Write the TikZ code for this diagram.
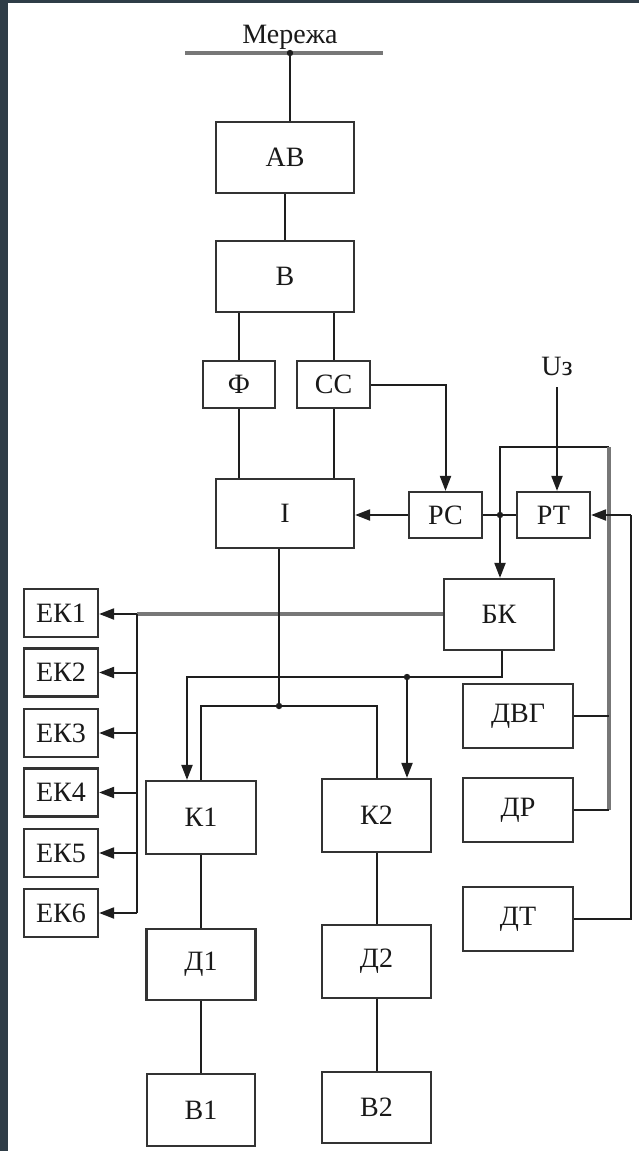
\documentclass[tikz,border=0pt]{standalone}
\usepackage{fontspec}
\setmainfont{Liberation Serif}
\usetikzlibrary{arrows.meta,calc}
\definecolor{bgdark}{HTML}{2F3D47}
\definecolor{boxc}{HTML}{333333}
\definecolor{linec}{HTML}{1E1E1E}
\definecolor{glinec}{HTML}{777777}
\begin{document}
\begin{tikzpicture}[x=1pt,y=-1pt,
  box/.style={draw=boxc,line width=2.2pt,fill=white,inner sep=0pt,
    font=\fontsize{28}{30}\selectfont,text=black!90},
  txt/.style={inner sep=0pt,font=\fontsize{28}{30}\selectfont,text=black!90},
  conn/.style={draw=linec,line width=2pt},
  gline/.style={draw=glinec,line width=3.2pt},
  arr/.style={conn,-{Triangle[length=15pt,width=11pt]}},
  dot/.style={fill=linec}]
\useasboundingbox (0,0) rectangle (639,1151);
\fill[bgdark] (0,0) rectangle (639,1151);
\fill[white] (8,3) rectangle (639,1151);

% text labels
\node[txt,anchor=base] (mer) at (290,43) {Мережа};
\node[txt] (uz) at (557,366) {Uз};

% boxes
\node[box,minimum width=138pt,minimum height=71pt] (AB) at (285,157.5) {АВ};
\node[box,minimum width=138pt,minimum height=71pt] (B) at (285,276.5) {В};
\node[box,minimum width=72pt,minimum height=47pt] (F) at (239,384.5) {Ф};
\node[box,minimum width=73pt,minimum height=47pt] (CC) at (333.5,384.5) {СС};
\node[box,minimum width=138pt,minimum height=69pt] (I) at (285,513.5) {І};
\node[box,minimum width=73pt,minimum height=46pt] (PC) at (445.5,515) {РС};
\node[box,minimum width=73pt,minimum height=46pt] (PT) at (553.5,515) {РТ};
\node[box,minimum width=110pt,minimum height=71pt] (BK) at (499,614.5) {БК};
\node[box,minimum width=110pt,minimum height=64pt] (DVG) at (518,716) {ДВГ};
\node[box,minimum width=110pt,minimum height=64pt] (DR) at (518,810) {ДР};
\node[box,minimum width=110pt,minimum height=64pt] (DT) at (518,919) {ДТ};
\node[box,minimum width=74pt,minimum height=48pt] (EK1) at (61,613) {ЕК1};
\node[box,minimum width=74pt,minimum height=48pt] (EK2) at (61,672.5) {ЕК2};
\node[box,minimum width=74pt,minimum height=48pt] (EK3) at (61,733) {ЕК3};
\node[box,minimum width=74pt,minimum height=48pt] (EK4) at (61,792.5) {ЕК4};
\node[box,minimum width=74pt,minimum height=48pt] (EK5) at (61,853) {ЕК5};
\node[box,minimum width=74pt,minimum height=48pt] (EK6) at (61,913) {ЕК6};
\node[box,minimum width=110pt,minimum height=73pt] (K1) at (201,817.5) {К1};
\node[box,minimum width=109pt,minimum height=73pt] (K2) at (376.5,815.5) {К2};
\node[box,minimum width=109pt,minimum height=71pt] (D1) at (201,964.5) {Д1};
\node[box,minimum width=109pt,minimum height=73pt] (D2) at (376.5,961.5) {Д2};
\node[box,minimum width=108pt,minimum height=72pt] (B1) at (201,1110) {В1};
\node[box,minimum width=109pt,minimum height=71pt] (B2) at (376.5,1107.5) {В2};

% coordinates
\coordinate (busl) at (185,53);
\coordinate (busr) at (383,53);
\coordinate (busd) at (290,53);
\coordinate (uzt) at (557,387);
\coordinate (jn) at (500,515);
\coordinate (lp) at (609,447);
\coordinate (pr) at (631,515);
\coordinate (eb1) at (137,614);
\coordinate (bk1) at (502,677);
\coordinate (k1a) at (187,677);
\coordinate (bk2) at (407,677);
\coordinate (i1) at (279,706);

% top
\draw[gline] (busl) -- (busr);
\draw[conn] (busd) -- (busd |- AB.north);
\fill[dot] (busd) circle (3.2pt);
\draw[conn] (AB) -- (B);
\draw[conn] (B.south -| F.north) -- (F.north);
\draw[conn] (B.south -| CC.north) -- (CC.north);
\draw[conn] (F.south) -- (F.south |- I.north);
\draw[conn] (CC.south) -- (CC.south |- I.north);
\draw[arr] (CC.east) -| (PC.north);
\draw[arr] (PC.west) -- (PC.west -| I.east);
\draw[conn] (PC.east) -- (PT.west);
\draw[arr] (uzt) -- (uzt |- PT.north);

% loop and sensors
\draw[conn] (jn) |- (lp);
\draw[gline] (lp) -- (lp |- DR.east);
\draw[conn] (lp |- DR.east) -- (DR.east);
\draw[conn] (DVG.east) -- (DVG.east -| lp);
\draw[arr] (jn) -- (jn |- BK.north);
\fill[dot] (jn) circle (3.2pt);
\draw[conn] (DT.east) -| (pr);
\draw[arr] (pr) -- (PT.east);

% BK to EK
\draw[gline] (BK.west |- eb1) -- (eb1);
\draw[arr] (eb1) -- (eb1 -| EK1.east);
\draw[conn] (eb1) -- (EK6.east -| eb1);
\draw[arr] (EK2.east -| eb1) -- (EK2.east);
\draw[arr] (EK3.east -| eb1) -- (EK3.east);
\draw[arr] (EK4.east -| eb1) -- (EK4.east);
\draw[arr] (EK5.east -| eb1) -- (EK5.east);
\draw[arr] (EK6.east -| eb1) -- (EK6.east);

% BK to K1, K2
\draw[arr] (BK.south -| bk1) -- (bk1) -- (k1a) -- (k1a |- K1.north);
\draw[arr] (bk2) -- (bk2 |- K2.north);
\fill[dot] (bk2) circle (3.2pt);

% I to K1, K2
\draw[conn] (I.south -| i1) -- (i1);
\draw[conn] (i1) -| (K1.north);
\draw[conn] (i1) -| (K2.north);
\fill[dot] (i1) circle (3.2pt);

% lower chain
\draw[conn] (K1) -- (D1);
\draw[conn] (D1) -- (B1);
\draw[conn] (K2) -- (D2);
\draw[conn] (D2) -- (B2);
\end{tikzpicture}
\end{document}
